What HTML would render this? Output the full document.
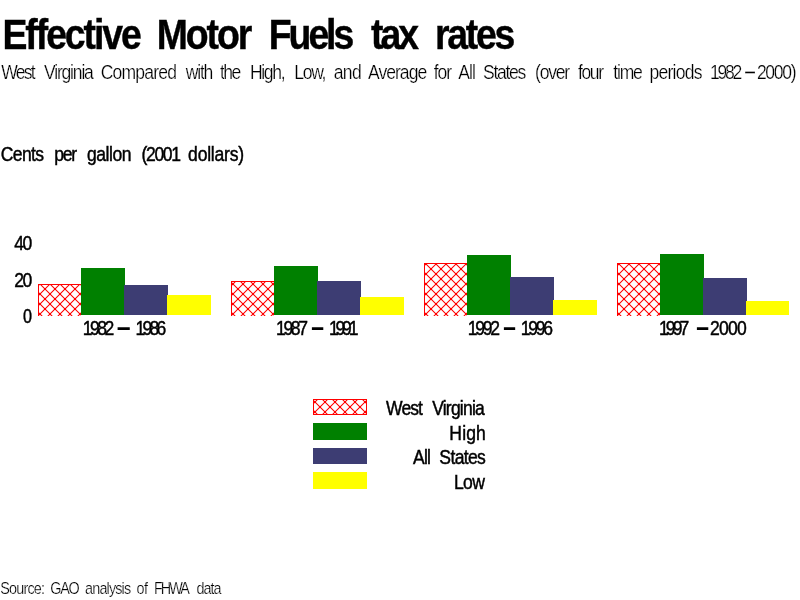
<!DOCTYPE html>
<html lang="en"><head><meta charset="utf-8"><title>Effective Motor Fuels tax rates</title>
<style>
html,body{margin:0;padding:0;background:#fff;}
body{width:800px;height:600px;overflow:hidden;}
svg{display:block;}
text{font-family:"Liberation Sans",sans-serif;fill:#000;white-space:pre;}
text.b{font-weight:bold;stroke:#000;stroke-width:0.4px;}
text.t,text.f{stroke:#fff;stroke-width:0.25px;}
text.r{stroke:#000;stroke-width:0.45px;}
text.d{stroke:#000;stroke-width:1.3px;}
text.e{stroke:#000;stroke-width:0.2px;}
</style></head>
<body>
<svg width="800" height="600" viewBox="0 0 800 600">
<defs>
<pattern id="h0" patternUnits="userSpaceOnUse" x="40" y="314" width="10" height="10"><path d="M-1,-1L11,11M11,-1L-1,11" stroke="#f00" stroke-width="1.05" fill="none"/><path d="M-1,-1h2v2h-2zM9,-1h2v2h-2zM-1,9h2v2h-2zM9,9h2v2h-2zM4,4h2v2h-2z" fill="#f00"/></pattern>
<pattern id="h1" patternUnits="userSpaceOnUse" x="233" y="314" width="10" height="10"><path d="M-1,-1L11,11M11,-1L-1,11" stroke="#f00" stroke-width="1.05" fill="none"/><path d="M-1,-1h2v2h-2zM9,-1h2v2h-2zM-1,9h2v2h-2zM9,9h2v2h-2zM4,4h2v2h-2z" fill="#f00"/></pattern>
<pattern id="h2" patternUnits="userSpaceOnUse" x="426" y="314" width="10" height="10"><path d="M-1,-1L11,11M11,-1L-1,11" stroke="#f00" stroke-width="1.05" fill="none"/><path d="M-1,-1h2v2h-2zM9,-1h2v2h-2zM-1,9h2v2h-2zM9,9h2v2h-2zM4,4h2v2h-2z" fill="#f00"/></pattern>
<pattern id="h3" patternUnits="userSpaceOnUse" x="619" y="314" width="10" height="10"><path d="M-1,-1L11,11M11,-1L-1,11" stroke="#f00" stroke-width="1.05" fill="none"/><path d="M-1,-1h2v2h-2zM9,-1h2v2h-2zM-1,9h2v2h-2zM9,9h2v2h-2zM4,4h2v2h-2z" fill="#f00"/></pattern>
<pattern id="hl" patternUnits="userSpaceOnUse" x="315" y="402" width="10" height="10"><path d="M-1,-1L11,11M11,-1L-1,11" stroke="#f00" stroke-width="1.05" fill="none"/><path d="M-1,-1h2v2h-2zM9,-1h2v2h-2zM-1,9h2v2h-2zM9,9h2v2h-2zM4,4h2v2h-2z" fill="#f00"/></pattern>
</defs>
<rect width="800" height="600" fill="#fff"/>
<g shape-rendering="crispEdges">
<rect x="38" y="284" width="43" height="31.5" fill="url(#h0)"/>
<path d="M38.5,315.5V284.5H81" stroke="#f00" stroke-width="1" fill="none"/>
<rect x="81" y="268" width="44" height="47" fill="#008000"/>
<rect x="124" y="285" width="44" height="30" fill="#3d3d73"/>
<rect x="167" y="295" width="44" height="20" fill="#ffff00"/>
<rect x="231" y="281" width="43" height="34.5" fill="url(#h1)"/>
<path d="M231.5,315.5V281.5H274" stroke="#f00" stroke-width="1" fill="none"/>
<rect x="274" y="266" width="44" height="49" fill="#008000"/>
<rect x="317" y="281" width="44" height="34" fill="#3d3d73"/>
<rect x="360" y="297" width="44" height="18" fill="#ffff00"/>
<rect x="424" y="263" width="43" height="52.5" fill="url(#h2)"/>
<path d="M424.5,315.5V263.5H467" stroke="#f00" stroke-width="1" fill="none"/>
<rect x="467" y="255" width="44" height="60" fill="#008000"/>
<rect x="510" y="277" width="44" height="38" fill="#3d3d73"/>
<rect x="553" y="300" width="44" height="15" fill="#ffff00"/>
<rect x="617" y="263" width="43" height="52.5" fill="url(#h3)"/>
<path d="M617.5,315.5V263.5H660" stroke="#f00" stroke-width="1" fill="none"/>
<rect x="660" y="254" width="44" height="61" fill="#008000"/>
<rect x="703" y="278" width="44" height="37" fill="#3d3d73"/>
<rect x="746" y="301" width="43" height="14" fill="#ffff00"/>
<rect x="313.5" y="399.5" width="53" height="15" fill="url(#hl)" stroke="#f00" stroke-width="1"/>
<rect x="313" y="423" width="54" height="17" fill="#008000"/>
<rect x="313" y="448" width="54" height="16" fill="#3d3d73"/>
<rect x="313" y="472" width="54" height="17" fill="#ffff00"/>
</g>
<text class="b" transform="translate(2.50 49) scale(0.8900 1)" font-size="42" letter-spacing="-2.313">Effective</text>
<text class="b" transform="translate(156.85 49) scale(0.8900 1)" font-size="42" letter-spacing="-2.373">Motor</text>
<text class="b" transform="translate(268.85 49) scale(0.8900 1)" font-size="42" letter-spacing="-3.434">Fuels</text>
<text class="b" transform="translate(371.02 49) scale(0.8900 1)" font-size="42" letter-spacing="-3.325">tax</text>
<text class="b" transform="translate(435.00 49) scale(0.8900 1)" font-size="42" letter-spacing="-2.554">rates</text>
<text class="t" transform="translate(1.20 79) scale(0.9000 1)" font-size="19.5" letter-spacing="-1.919">West</text>
<text class="t" transform="translate(44.00 79) scale(0.9000 1)" font-size="19.5" letter-spacing="-1.324">Virginia</text>
<text class="t" transform="translate(100.66 79) scale(0.9000 1)" font-size="19.5" letter-spacing="-0.889">Compared</text>
<text class="t" transform="translate(185.69 79) scale(0.9000 1)" font-size="19.5" letter-spacing="-1.310">with</text>
<text class="t" transform="translate(220.00 79) scale(0.9000 1)" font-size="19.5" letter-spacing="-1.774">the</text>
<text class="t" transform="translate(249.95 79) scale(0.9000 1)" font-size="19.5" letter-spacing="-1.481">High,</text>
<text class="t" transform="translate(294.15 79) scale(0.9000 1)" font-size="19.5" letter-spacing="-1.394">Low,</text>
<text class="t" transform="translate(333.64 79) scale(0.9000 1)" font-size="19.5" letter-spacing="-0.704">and</text>
<text class="t" transform="translate(368.00 79) scale(0.9000 1)" font-size="19.5" letter-spacing="-1.085">Average</text>
<text class="t" transform="translate(433.86 79) scale(0.9000 1)" font-size="19.5" letter-spacing="-1.301">for</text>
<text class="t" transform="translate(458.32 79) scale(0.9000 1)" font-size="19.5" letter-spacing="-1.015">All</text>
<text class="t" transform="translate(483.01 79) scale(0.9000 1)" font-size="19.5" letter-spacing="-1.460">States</text>
<text class="t" transform="translate(535.07 79) scale(0.9000 1)" font-size="19.5" letter-spacing="-1.406">(over</text>
<text class="t" transform="translate(578.00 79) scale(0.9000 1)" font-size="19.5" letter-spacing="-1.547">four</text>
<text class="t" transform="translate(613.35 79) scale(0.9000 1)" font-size="19.5" letter-spacing="-1.340">time</text>
<text class="t" transform="translate(649.39 79) scale(0.9000 1)" font-size="19.5" letter-spacing="-0.802">periods</text>
<text class="t" transform="translate(710.09 79) scale(0.9000 1)" font-size="19.5" letter-spacing="-2.586">1982</text>
<text class="e" transform="translate(745.18 78) scale(0.8882 1)" font-size="19.5" letter-spacing="0.000">–</text>
<text class="t" transform="translate(756.94 79) scale(0.9000 1)" font-size="19.5" letter-spacing="-1.478">2000)</text>
<text class="r" transform="translate(0.65 161) scale(0.9000 1)" font-size="19.5" letter-spacing="-0.653">Cents</text>
<text class="r" transform="translate(54.15 161) scale(0.9000 1)" font-size="19.5" letter-spacing="-1.405">per</text>
<text class="r" transform="translate(87.00 161) scale(0.9000 1)" font-size="19.5" letter-spacing="-0.538">gallon</text>
<text class="r" transform="translate(141.61 161) scale(0.9000 1)" font-size="19.5" letter-spacing="-1.525">(2001</text>
<text class="r" transform="translate(188.10 161) scale(0.9000 1)" font-size="19.5" letter-spacing="-0.242">dollars)</text>
<text class="r" transform="translate(14.25 250) scale(0.9000 1)" font-size="19.5" letter-spacing="-1.687">40</text>
<text class="r" transform="translate(14.25 287) scale(0.9000 1)" font-size="19.5" letter-spacing="-1.687">20</text>
<text class="r" transform="translate(23.00 322.6) scale(0.8301 1)" font-size="19.5" letter-spacing="0.000">0</text>
<text class="r" transform="translate(82.73 335) scale(0.9000 1)" font-size="19.5" letter-spacing="-2.750">1982</text>
<text class="d" transform="translate(118.25 333.6) scale(1.0034 1)" font-size="19.5" letter-spacing="0.000">–</text>
<text class="r" transform="translate(135.61 335) scale(0.9000 1)" font-size="19.5" letter-spacing="-3.124">1986</text>
<text class="r" transform="translate(276.00 335) scale(0.9000 1)" font-size="19.5" letter-spacing="-2.607">1987</text>
<text class="d" transform="translate(312.40 333.6) scale(0.9396 1)" font-size="19.5" letter-spacing="0.000">–</text>
<text class="r" transform="translate(329.00 335) scale(0.9000 1)" font-size="19.5" letter-spacing="-3.574">1991</text>
<text class="r" transform="translate(467.73 335) scale(0.9000 1)" font-size="19.5" letter-spacing="-2.506">1992</text>
<text class="d" transform="translate(504.39 333.6) scale(0.9319 1)" font-size="19.5" letter-spacing="0.000">–</text>
<text class="r" transform="translate(520.73 335) scale(0.9000 1)" font-size="19.5" letter-spacing="-2.506">1996</text>
<text class="r" transform="translate(659.00 335) scale(0.9000 1)" font-size="19.5" letter-spacing="-3.221">1997</text>
<text class="d" transform="translate(697.40 333.6) scale(0.9396 1)" font-size="19.5" letter-spacing="0.000">–</text>
<text class="r" transform="translate(710.00 335) scale(0.9000 1)" font-size="19.5" letter-spacing="-0.845">2000</text>
<text class="r" transform="translate(386.08 414.5) scale(0.9000 1)" font-size="19.5" letter-spacing="-1.015">West</text>
<text class="r" transform="translate(432.13 414.5) scale(0.9000 1)" font-size="19.5" letter-spacing="-0.882">Virginia</text>
<text class="r" transform="translate(449.36 439.5) scale(0.9000 1)" font-size="19.5" letter-spacing="0.146">High</text>
<text class="r" transform="translate(413.12 463.5) scale(0.9000 1)" font-size="19.5" letter-spacing="-0.902">All</text>
<text class="r" transform="translate(439.37 463.5) scale(0.9000 1)" font-size="19.5" letter-spacing="-0.718">States</text>
<text class="r" transform="translate(454.00 489) scale(0.9000 1)" font-size="19.5" letter-spacing="-0.754">Low</text>
<text class="f" transform="translate(0.27 594) scale(0.9000 1)" font-size="16" letter-spacing="-0.907">Source:</text>
<text class="f" transform="translate(50.19 594) scale(0.9000 1)" font-size="16" letter-spacing="-1.390">GAO</text>
<text class="f" transform="translate(85.10 594) scale(0.9000 1)" font-size="16" letter-spacing="-0.953">analysis</text>
<text class="f" transform="translate(136.44 594) scale(0.9000 1)" font-size="16" letter-spacing="-0.632">of</text>
<text class="f" transform="translate(154.00 594) scale(0.9000 1)" font-size="16" letter-spacing="-2.175">FHWA</text>
<text class="f" transform="translate(196.45 594) scale(0.9000 1)" font-size="16" letter-spacing="-1.105">data</text>
</svg>
</body></html>
